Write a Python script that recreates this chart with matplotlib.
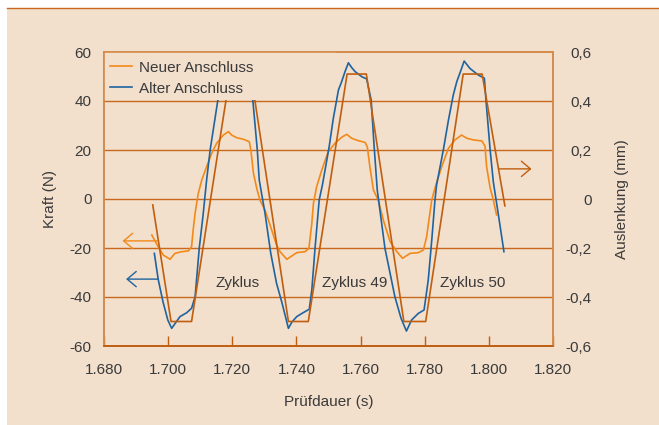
import matplotlib
matplotlib.use('Agg')
import matplotlib.pyplot as plt
from matplotlib.patches import Rectangle
from matplotlib.lines import Line2D
from matplotlib.ticker import FuncFormatter

plt.rcParams['font.family'] = ['Liberation Sans', 'DejaVu Sans']
plt.rcParams['font.size'] = 11

#  Colours
bg_color = '#f2dfcc'
line_color = '#c8691e'
spine_color = '#d58a4c'
text_color = '#3a3a3a'
new_color = '#f28a1a'
old_color = '#1f64a0'
disp_color = '#c05e10'

#  Kraft, alter Anschluss (N)
t_old = [1.6957, 1.6969, 1.6984, 1.6999, 1.7011, 1.7025, 1.7037, 1.7058, 1.7073, 1.7084,
         1.7097, 1.7109, 1.7120, 1.7131, 1.7143, 1.7155, 1.7165, 1.7176, 1.7187, 1.7196,
         1.7212, 1.7227, 1.7246, 1.7255, 1.7264, 1.7278, 1.7284, 1.7302, 1.7320, 1.7338,
         1.7355, 1.7375, 1.7386, 1.7401, 1.7421, 1.7440, 1.7448, 1.7458, 1.7471, 1.7481,
         1.7502, 1.7515, 1.7531, 1.7541, 1.7551, 1.7562, 1.7572, 1.7583, 1.7604, 1.7619,
         1.7633, 1.7642, 1.7652, 1.7676, 1.7707, 1.7726, 1.7743, 1.7759, 1.7780, 1.7798,
         1.7811, 1.7822, 1.7832, 1.7837, 1.7858, 1.7874, 1.7889, 1.7900, 1.7912, 1.7923,
         1.7941, 1.7967, 1.7986, 1.7991, 1.8004, 1.8014, 1.8029, 1.8047]
f_old = [-22.2, -32.8, -42.0, -49.4, -52.8, -50.2, -48.0, -46.4, -44.6, -39.9,
         -20.1, -6.5, 7.8, 20.0, 30.2, 40.4, 45.3, 48.6, 52.7, 55.9,
         52.2, 50.2, 49.0, 46.5, 40.4, 20.0, 7.8, -5.8, -22.2, -34.4,
         -42.4, -52.8, -50.2, -48.0, -46.4, -45.0, -37.1, -20.1, -0.4, 5.7,
         21.3, 32.9, 44.5, 47.9, 51.8, 55.6, 53.7, 52.0, 49.9, 49.0,
         40.4, 22.0, 3.7, -20.1, -39.9, -48.6, -53.9, -49.4, -46.7, -45.3,
         -33.1, -16.7, -0.4, 5.7, 20.0, 32.2, 42.4, 47.9, 52.2, 56.3,
         53.3, 50.6, 49.3, 40.4, 20.0, 6.9, -5.8, -21.5]

#  Kraft, neuer Anschluss (N)
t_new = [1.6949, 1.6969, 1.6985, 1.7006, 1.7021, 1.7042, 1.7063, 1.7073, 1.7078, 1.7084,
         1.7094, 1.7105, 1.7120, 1.7136, 1.7151, 1.7172, 1.7188, 1.7198, 1.7214, 1.7234,
         1.7253, 1.7258, 1.7266, 1.7276, 1.7286, 1.7302, 1.7323, 1.7338, 1.7349, 1.7370,
         1.7385, 1.7401, 1.7427, 1.7439, 1.7448, 1.7453, 1.7463, 1.7479, 1.7499, 1.7520,
         1.7541, 1.7557, 1.7572, 1.7593, 1.7614, 1.7621, 1.7629, 1.7640, 1.7655, 1.7671,
         1.7692, 1.7713, 1.7731, 1.7754, 1.7780, 1.7796, 1.7806, 1.7811, 1.7822, 1.7832,
         1.7853, 1.7874, 1.7894, 1.7915, 1.7931, 1.7952, 1.7978, 1.7988, 1.7993, 1.8004,
         1.8014, 1.8024]
f_new = [-14.7, -19.5, -22.9, -24.6, -22.2, -21.5, -21.2, -19.5, -12.7, -5.8,
         2.3, 7.8, 13.2, 18.7, 22.7, 26.1, 27.5, 26.1, 25.0, 24.4,
         23.4, 20.0, 10.5, 4.5, -0.4, -4.5, -12.7, -18.8, -21.5, -24.6,
         -23.3, -21.9, -21.5, -20.1, -9.9, -1.8, 5.0, 11.8, 19.3, 22.7,
         25.2, 26.4, 24.8, 23.8, 23.1, 21.3, 13.2, 3.7, -0.4, -8.6,
         -17.4, -21.5, -24.2, -22.2, -21.9, -20.8, -15.4, -10.6, -0.4, 4.5,
         13.2, 20.7, 24.1, 26.1, 24.8, 24.1, 23.7, 21.6, 13.2, 4.5,
         -0.4, -6.5]

#  Auslenkung (mm)
t_disp = [1.6952, 1.7009, 1.7073, 1.7193, 1.7258, 1.7375, 1.7437, 1.7558, 1.7618, 1.7735,
          1.7803, 1.7920, 1.7979, 1.8050]
d_disp = [-0.024, -0.50, -0.50, 0.51, 0.51, -0.50, -0.50, 0.51, 0.51, -0.50,
          -0.50, 0.51, 0.51, -0.028]

x_ticks = [1.680, 1.700, 1.720, 1.740, 1.760, 1.780, 1.800, 1.820]
y_ticks = [-60, -40, -20, 0, 20, 40, 60]
y2_ticks = [-0.6, -0.4, -0.2, 0, 0.2, 0.4, 0.6]
cycle_labels = ['Zyklus', 'Zyklus 49', 'Zyklus 50']
cycle_t = [1.7216, 1.7583, 1.7951]

fig = plt.figure(figsize=(6.59, 4.25), dpi=100, facecolor='white')
#  Beige panel and the orange rule on top
fig.patches.append(Rectangle((7 / 659, 0), 1, 416 / 425, transform=fig.transFigure,
                             facecolor=bg_color, edgecolor='none', zorder=-10))
fig.lines.append(Line2D([7 / 659, 1], [0.9805, 0.9805], transform=fig.transFigure,
                        color=line_color, lw=1.0, zorder=-9))

ax = fig.add_axes([104 / 659, 79 / 425, 449 / 659, 294 / 425])
ax.set_facecolor('none')
ax.set_xlim(1.68, 1.82)
ax.set_ylim(-60, 60)
ax2 = ax.twinx()
ax2.set_ylim(-0.6, 0.6)

#  Grid lines
for yv in y_ticks[1:-1]:
    ax.axhline(yv, color=line_color, lw=1.0, zorder=1)

ax.plot(t_new, f_new, color=new_color, lw=1.2, zorder=3)
ax.plot(t_old, f_old, color=old_color, lw=1.2, zorder=3)
ax2.plot(t_disp, d_disp, color=disp_color, lw=1.2, zorder=3)

#  Legend area masks the curves
ax2.add_patch(Rectangle((0, 0.8365), 0.517, 0.1635, transform=ax.transAxes,
                        facecolor=bg_color, edgecolor='none', zorder=4))
handles = [Line2D([], [], color=new_color, lw=1.2), Line2D([], [], color=old_color, lw=1.2)]
leg = ax2.legend(handles, ['Neuer Anschluss', 'Alter Anschluss'], loc='upper left',
                 bbox_to_anchor=(0.013, 0.970), borderaxespad=0, borderpad=0,
                 frameon=False, handlelength=1.42, handletextpad=0.5,
                 labelspacing=0.45, fontsize=11)
for txt in leg.get_texts():
    txt.set_color(text_color)
leg.set_zorder(5)

#  Arrows pointing to the axes
arrow_kw = dict(arrowstyle='->,head_length=0.65,head_width=0.55', shrinkA=0, shrinkB=0,
                lw=1.0, mutation_scale=10)
ax.annotate('', xy=(1.6858, -17.1), xytext=(1.6966, -17.1),
            arrowprops=dict(color=new_color, **arrow_kw))
ax.annotate('', xy=(1.6869, -32.7), xytext=(1.6969, -32.7),
            arrowprops=dict(color=old_color, **arrow_kw))
ax2.annotate('', xy=(1.8133, 0.123), xytext=(1.8030, 0.123),
             arrowprops=dict(color=disp_color, **arrow_kw))

for lab, tc in zip(cycle_labels, cycle_t):
    ax.text(tc, -34.2, lab, ha='center', va='center', color=text_color, fontsize=11)

#  Axes styling
for a in (ax, ax2):
    for side in ('left', 'right', 'top'):
        a.spines[side].set_color(spine_color)
        a.spines[side].set_linewidth(1.2)
    a.spines['bottom'].set_color(disp_color)
    a.spines['bottom'].set_linewidth(1.2)
    for sp in a.spines.values():
        sp.set_zorder(6)

ax.set_xticks(x_ticks)
ax.xaxis.set_major_formatter(FuncFormatter(lambda v, p: f'{v:.3f}'))
ax.tick_params(axis='x', direction='in', length=7.5, width=1.0, color=disp_color,
               pad=12.5, labelcolor=text_color, labelsize=11)
ax.set_yticks(y_ticks)
ax.yaxis.set_major_formatter(FuncFormatter(lambda v, p: f'{v:.0f}'))
ax.tick_params(axis='y', length=0, pad=9, labelcolor=text_color, labelsize=11)
ax2.set_yticks(y2_ticks)
ax2.yaxis.set_major_formatter(FuncFormatter(lambda v, p: '0' if abs(v) < 1e-9 else f'{v:.1f}'.replace('.', ',')))
ax2.tick_params(axis='y', length=0, pad=28, labelcolor=text_color, labelsize=11)
for lbl in ax2.get_yticklabels():
    lbl.set_ha('right')

ax.set_xlabel('Prüfdauer (s)', color=text_color, fontsize=11)
ax.xaxis.set_label_coords(0.5, -0.19)
ax.xaxis.label.set_va('center')
ax.set_ylabel('Kraft (N)', color=text_color, fontsize=11)
ax.yaxis.set_label_coords(-0.121, 0.5)
ax.yaxis.label.set_va('center')
ax2.set_ylabel('Auslenkung (mm)', color=text_color, fontsize=11)
ax2.yaxis.set_label_coords(1.154, 0.5)
ax2.yaxis.label.set_va('center')

fig.savefig('out.png', dpi=100, facecolor='white')
